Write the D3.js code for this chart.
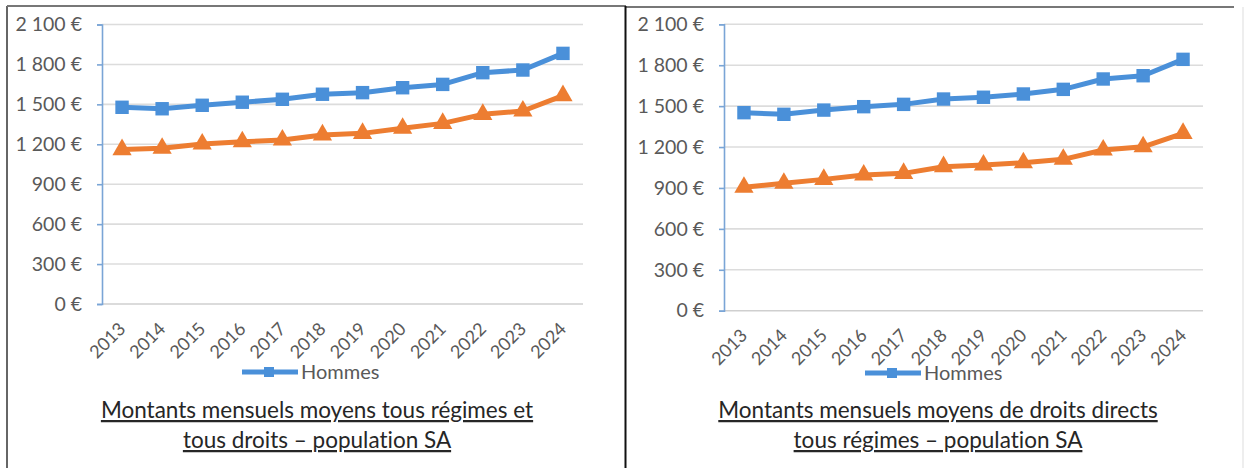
<!DOCTYPE html>
<html>
<head>
<meta charset="utf-8">
<script src="https://cdn.jsdelivr.net/npm/d3@7"></script>
<style>
  html, body { margin: 0; padding: 0; background: #fff; }
  svg { display: block; }
  text { font-family: Lato, "Open Sans", sans-serif; font-variant-ligatures: none; }
</style>
</head>
<body>
<svg id="chart" width="1245" height="468"></svg>
<script>
// ---- data ----
const years = ["2013","2014","2015","2016","2017","2018","2019","2020","2021","2022","2023","2024"];
const yTickValues = [0, 300, 600, 900, 1200, 1500, 1800, 2100];
const leftHommes  = [1478, 1467, 1493, 1516, 1538, 1576, 1588, 1625, 1650, 1738, 1758, 1883];
const leftFemmes  = [1160, 1170, 1202, 1219, 1232, 1270, 1282, 1320, 1357, 1425, 1450, 1565];
const rightHommes = [1452, 1440, 1471, 1496, 1513, 1552, 1565, 1589, 1623, 1699, 1723, 1843];
const rightFemmes = [905, 934, 963, 995, 1007, 1056, 1068, 1085, 1110, 1178, 1202, 1300];
const legendLabel = "Hommes";
const leftTitle  = ["Montants mensuels moyens tous régimes et", "tous droits – population SA"];
const rightTitle = ["Montants mensuels moyens de droits directs", "tous régimes – population SA"];

const BLUE = "#4a90d9", ORANGE = "#ed7d31";
const svg = d3.select("#chart");

const fr = d3.formatLocale({decimal: ",", thousands: "\u00a0", grouping: [3], currency: ["", "\u00a0€"]});
const fmt = fr.format("$,");

// panel frames
const frame = svg.append("g");
frame.append("line").attr("x1", 7).attr("x2", 7).attr("y1", 6).attr("y2", 468).attr("stroke", "#666").attr("stroke-width", 2);
frame.append("line").attr("x1", 7).attr("x2", 626).attr("y1", 6).attr("y2", 6).attr("stroke", "#777").attr("stroke-width", 2);
frame.append("line").attr("x1", 626).attr("x2", 1234).attr("y1", 7).attr("y2", 7).attr("stroke", "#777").attr("stroke-width", 2);
frame.append("line").attr("x1", 625.5).attr("x2", 625.5).attr("y1", 6).attr("y2", 468).attr("stroke", "#111").attr("stroke-width", 2);
frame.append("line").attr("x1", 1243).attr("x2", 1243).attr("y1", 7).attr("y2", 468).attr("stroke", "#ddd").attr("stroke-width", 1);

function drawPanel(cfg) {
  const g = svg.append("g");
  const x = d3.scalePoint().domain(years).range([cfg.x0, cfg.x1]).padding(0.5);
  const y = d3.scaleLinear().domain([0, 2100]).range([cfg.yBottom, cfg.yTop]);

  // gridlines
  g.append("g").selectAll("line").data(yTickValues).join("line")
    .attr("x1", cfg.x0).attr("x2", cfg.x1)
    .attr("y1", d => y(d)).attr("y2", d => y(d))
    .attr("stroke", d => d === 0 ? "#cfcfcf" : "#dcdcdc").attr("stroke-width", 1.6);

  // y axis
  const yAxis = d3.axisLeft(y).tickValues(yTickValues).tickSize(5).tickPadding(15).tickFormat(fmt);
  const ya = g.append("g").attr("transform", `translate(${cfg.x0},0)`).call(yAxis);
  ya.select(".domain").attr("stroke", "#7aa5d6").attr("stroke-width", 1.6);
  ya.selectAll(".tick line").attr("stroke", "#7aa5d6").attr("stroke-width", 1.6);
  ya.selectAll(".tick text").attr("fill", "#595959").style("font-size", "19.5px").style("font-family", "Lato, sans-serif");

  // x labels
  const xAxis = d3.axisBottom(x).tickSize(0).tickPadding(0);
  const xa = g.append("g").attr("transform", `translate(0,${cfg.yBottom})`).call(xAxis);
  xa.select(".domain").remove();
  xa.selectAll(".tick text")
    .attr("fill", "#595959").style("font-size", "18px").style("font-family", "Lato, sans-serif")
    .attr("text-anchor", "end").attr("dy", 0).attr("y", 0)
    .attr("transform", `translate(4,${cfg.labelDy}) rotate(-45)`);

  // lines
  const line = d3.line().x((d, i) => x(years[i])).y(d => y(d));
  g.append("path").datum(cfg.hommes).attr("d", line).attr("fill", "none")
    .attr("stroke", BLUE).attr("stroke-width", 5).attr("stroke-linejoin", "round");
  g.append("path").datum(cfg.femmes).attr("d", line).attr("fill", "none")
    .attr("stroke", ORANGE).attr("stroke-width", 5).attr("stroke-linejoin", "round");

  const sq = d3.symbol().type(d3.symbolSquare).size(180);
  g.append("g").selectAll("path").data(cfg.hommes).join("path")
    .attr("d", sq).attr("fill", BLUE)
    .attr("transform", (d, i) => `translate(${x(years[i])},${y(d)})`);
  const tri = d3.symbol().type(d3.symbolTriangle).size(160);
  g.append("g").selectAll("path").data(cfg.femmes).join("path")
    .attr("d", tri).attr("fill", ORANGE)
    .attr("transform", (d, i) => `translate(${x(years[i])},${y(d)})`);

  // legend
  const lg = g.append("g");
  lg.append("line").attr("x1", cfg.legX).attr("x2", cfg.legX + 56).attr("y1", cfg.legY).attr("y2", cfg.legY)
    .attr("stroke", BLUE).attr("stroke-width", 5);
  lg.append("path").attr("d", d3.symbol().type(d3.symbolSquare).size(100)())
    .attr("fill", BLUE).attr("transform", `translate(${cfg.legX + 27},${cfg.legY})`);
  lg.append("text").attr("x", cfg.legX + 59).attr("y", cfg.legY + 7)
    .attr("fill", "#595959").style("font-size", "20px").text(legendLabel);

  // title
  g.append("g").selectAll("text").data(cfg.title).join("text")
    .attr("x", cfg.titleX).attr("y", (d, i) => 418 + i * 30)
    .attr("text-anchor", "middle").attr("fill", "#262626")
    .style("font-size", "22.5px").style("text-decoration", "underline")
    .text(d => d);
}

drawPanel({x0: 102, x1: 583, yTop: 24.5, yBottom: 304, labelDy: 26,
  hommes: leftHommes, femmes: leftFemmes, legX: 242, legY: 372, title: leftTitle, titleX: 317});
drawPanel({x0: 724, x1: 1203, yTop: 24.3, yBottom: 310.7, labelDy: 26,
  hommes: rightHommes, femmes: rightFemmes, legX: 865, legY: 373, title: rightTitle, titleX: 938});
</script>
</body>
</html>
